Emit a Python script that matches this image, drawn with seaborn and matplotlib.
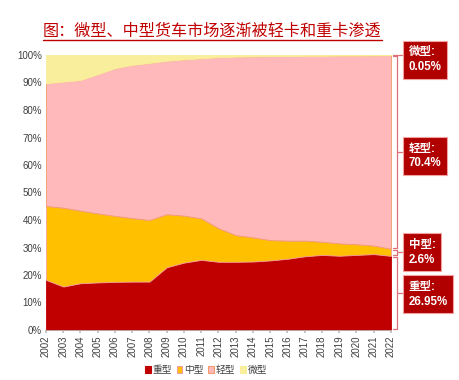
import numpy as np
import matplotlib
matplotlib.use("Agg")
import matplotlib.pyplot as plt
import seaborn as sns
from matplotlib.lines import Line2D
from matplotlib.patches import Patch
import matplotlib.transforms as mtransforms

# data: market share (%) of each truck class
years = list(range(2002, 2023))
heavy = [18.2, 15.8, 17.0, 17.3, 17.5, 17.6, 17.6, 22.8, 24.5, 25.5, 24.8,
         24.8, 24.9, 25.3, 25.9, 26.8, 27.3, 27.0, 27.3, 27.6, 26.95]
medium = [26.9, 28.7, 26.4, 25.1, 24.0, 23.1, 22.4, 19.3, 17.1, 15.1, 12.2,
          9.7, 8.8, 7.4, 6.6, 5.7, 4.8, 4.5, 3.9, 3.1, 2.6]
light = [44.6, 45.8, 47.5, 50.6, 53.7, 55.7, 57.1, 55.8, 56.8, 58.2, 62.2,
         64.9, 65.8, 66.9, 67.1, 67.2, 67.6, 68.3, 68.6, 69.15, 70.4]
micro = [10.3, 9.7, 9.1, 7.0, 4.8, 3.6, 2.9, 2.1, 1.6, 1.2, 0.8,
         0.6, 0.5, 0.4, 0.4, 0.3, 0.3, 0.2, 0.2, 0.15, 0.05]
names = ["重型", "中型", "轻型", "微型"]
last_labels = ["26.95%", "2.6%", "70.4%", "0.05%"]
title = "图：微型、中型货车市场逐渐被轻卡和重卡渗透"

sns.set_theme(style="white")
plt.rcParams['font.family'] = ['Liberation Sans', 'Noto Sans CJK SC']
plt.rcParams['axes.unicode_minus'] = False

colors = ["#C00000", "#FFC000", "#FFB9BA", "#F9EE9C"]
edges = ["#C00000", "#F4A0A0", "#F39A6B", "#F9EE9C"]

fig = plt.figure(figsize=(4.6, 3.8), dpi=100)
ax = fig.add_axes([46 / 460, 1 - 330 / 380, 345 / 460, 275 / 380])

series = [heavy, medium, light, micro]
polys = ax.stackplot(years, *series, colors=colors)
for p, ec in zip(polys, edges):
    p.set_edgecolor(ec)
    p.set_linewidth(0.6)

ax.set_xlim(years[0], years[-1])
ax.set_ylim(0, 100)
ax.set_yticks(range(0, 101, 10))
ax.set_yticklabels([f"{v}%" for v in range(0, 101, 10)], fontsize=7, color="#404040")
ax.set_xticks(years)
ax.set_xticklabels([str(y) for y in years], rotation=90, fontsize=7, color="#404040")
ax.tick_params(axis="y", length=0, pad=3)
ax.tick_params(axis="x", length=2, pad=2, color="#BFBFBF", bottom=True)
for s in ["top", "right", "left"]:
    ax.spines[s].set_visible(False)
ax.spines["bottom"].set_color("#BFBFBF")
ax.spines["bottom"].set_linewidth(0.6)

# brackets and labels at the right edge
trans = mtransforms.blended_transform_factory(ax.transAxes, ax.transData)
bounds = np.cumsum([0] + [s[-1] for s in series])
bcol = "#E07078"
xb = 1.017
for i in range(4):
    lo, hi = bounds[i], min(bounds[i + 1], 100)
    mid = (lo + hi) / 2
    if i == 3:
        ax.add_line(Line2D([1.005, 1.032], [hi, hi], transform=trans, color=bcol,
                           lw=0.9, clip_on=False))
        ty = 98.3
    else:
        ax.add_line(Line2D([xb, xb], [lo + 0.3, hi - 0.3], transform=trans, color=bcol,
                           lw=0.9, clip_on=False))
        for yy in (lo + 0.3, hi - 0.3):
            ax.add_line(Line2D([1.005, xb], [yy, yy], transform=trans, color=bcol,
                               lw=0.9, clip_on=False))
        ax.add_line(Line2D([xb, 1.032], [mid, mid], transform=trans, color=bcol,
                           lw=0.9, clip_on=False))
        ty = mid
        if i == 2:
            ty = mid - 1.5
        if i == 0:
            ty = mid - 0.5
    ax.text(1.051, ty, f"{names[i]}:\n{last_labels[i]}", transform=trans,
            ha="left", va="center", fontsize=8.3, fontweight="bold", color="white",
            linespacing=1.3,
            bbox=dict(boxstyle="square,pad=0.5", fc="#B00000", ec="#F3A0A0", lw=0.8),
            clip_on=False)

# title with underline
t = fig.text(43 / 460, 1 - 31 / 380, title, ha="left", va="center", fontsize=11.6,
             color="#C00000")
fig.canvas.draw()
bb = t.get_window_extent(renderer=fig.canvas.get_renderer())
fig.add_artist(Line2D([bb.x0 / 460, bb.x1 / 460], [1 - 39.5 / 380] * 2,
                      transform=fig.transFigure, color="#C00000", lw=1.0))

handles = [Patch(facecolor=c, edgecolor=e, linewidth=0.8) for c, e in zip(colors, edges)]
fig.legend(handles, names, loc="center", bbox_to_anchor=(206 / 460, 1 - 370 / 380),
           ncol=4, frameon=False, fontsize=7, handlelength=0.6, handleheight=0.6,
           handletextpad=0.2, columnspacing=0.45, labelcolor="#404040")

fig.savefig("out.png", dpi=100)
